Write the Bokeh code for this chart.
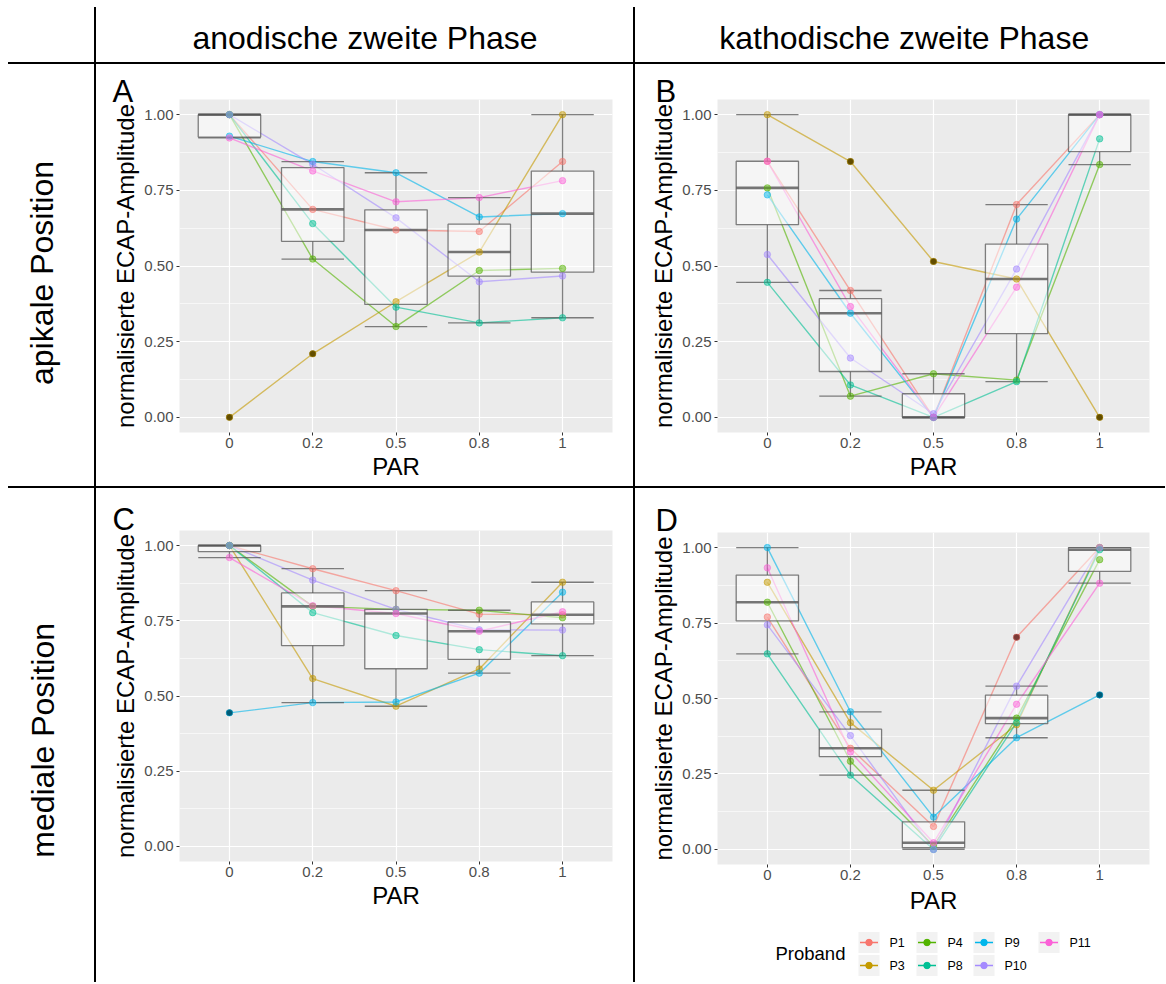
import numpy as np
from bokeh.plotting import figure
from bokeh.models import (FactorRange, Range1d, FixedTicker, PrintfTickFormatter,
                          ColumnDataSource, Spacer, Div)
from bokeh.transform import dodge
from bokeh.layouts import row, column
from bokeh.embed import file_html
from bokeh.resources import INLINE
from bokeh.core.properties import value

# ---------------- data ----------------
PAR = ["0", "0.2", "0.5", "0.8", "1"]
PROBANDS = ["P1", "P3", "P4", "P8", "P9", "P10", "P11"]
COLORS = ["#F8766D", "#C49A00", "#53B400", "#00C094", "#00B6EB", "#A58AFF", "#FB61D7"]
Y_TICKS = [0.0, 0.25, 0.5, 0.75, 1.0]
Y_MINOR = [0.125, 0.375, 0.625, 0.875]

COL_TITLES = ["anodische zweite Phase", "kathodische zweite Phase"]
ROW_TITLES = ["apikale Position", "mediale Position"]
PANEL_LETTERS = ["A", "B", "C", "D"]
X_TITLE = "PAR"
Y_TITLE = "normalisierte ECAP-Amplitude"
LEGEND_TITLE = "Proband"

# A: apikale Position, anodische zweite Phase
A_VALUES = {
    "P1":  [1.000, 0.687, 0.619, 0.614, 0.845],
    "P3":  [0.000, 0.210, 0.382, 0.546, 1.000],
    "P4":  [1.000, 0.523, 0.300, 0.485, 0.492],
    "P8":  [1.000, 0.640, 0.364, 0.312, 0.329],
    "P9":  [0.929, 0.845, 0.808, 0.662, 0.673],
    "P10": [1.000, 0.836, 0.659, 0.448, 0.467],
    "P11": [0.923, 0.814, 0.712, 0.726, 0.782],
}
# B: apikale Position, kathodische zweite Phase
B_VALUES = {
    "P1":  [0.846, 0.419, 0.000, 0.703, 1.000],
    "P3":  [1.000, 0.845, 0.515, 0.457, 0.000],
    "P4":  [0.758, 0.070, 0.144, 0.123, 0.835],
    "P8":  [0.446, 0.107, 0.000, 0.118, 0.920],
    "P9":  [0.735, 0.344, 0.000, 0.655, 1.000],
    "P10": [0.538, 0.196, 0.012, 0.490, 1.000],
    "P11": [0.846, 0.366, 0.000, 0.430, 1.000],
}
# C: mediale Position, anodische zweite Phase
C_VALUES = {
    "P1":  [1.000, 0.923, 0.850, 0.772, 0.770],
    "P3":  [1.000, 0.558, 0.466, 0.590, 0.878],
    "P4":  [1.000, 0.798, 0.788, 0.785, 0.760],
    "P8":  [1.000, 0.777, 0.701, 0.654, 0.634],
    "P9":  [0.444, 0.478, 0.480, 0.576, 0.845],
    "P10": [1.000, 0.885, 0.788, 0.720, 0.719],
    "P11": [0.960, 0.800, 0.774, 0.715, 0.780],
}
# D: mediale Position, kathodische zweite Phase
D_VALUES = {
    "P1":  [0.770, 0.335, 0.076, 0.703, 1.000],
    "P3":  [0.885, 0.420, 0.196, 0.413, 1.000],
    "P4":  [0.819, 0.292, 0.011, 0.435, 0.960],
    "P8":  [0.648, 0.246, 0.000, 0.420, 0.993],
    "P9":  [1.000, 0.456, 0.107, 0.370, 0.512],
    "P10": [0.744, 0.377, 0.000, 0.541, 1.000],
    "P11": [0.933, 0.323, 0.022, 0.481, 0.882],
}

FONT = "Liberation Sans"
BOX_COLOR = "#555555"


def box_stats(vals):
    v = np.sort(np.asarray(vals, dtype=float))
    q1, med, q3 = np.percentile(v, [25, 50, 75])
    iqr = q3 - q1
    lo_f, hi_f = q1 - 1.5 * iqr, q3 + 1.5 * iqr
    inside = v[(v >= lo_f) & (v <= hi_f)]
    out = v[(v < lo_f) | (v > hi_f)]
    return q1, med, q3, inside.min(), inside.max(), list(out)


def make_panel(values, letter, w, h, bl, br, bt, bb, tag_offset, tag_standoff, xlab_standoff=2):
    p = figure(width=w, height=h,
               x_range=FactorRange(factors=PAR, range_padding=0.1, range_padding_units="absolute"),
               y_range=Range1d(-0.05, 1.05),
               output_backend="svg", toolbar_location=None,
               min_border_left=bl, min_border_right=br, min_border_top=bt, min_border_bottom=bb)
    p.background_fill_color = "#EBEBEB"
    p.border_fill_color = "white"
    p.outline_line_color = None

    p.title.text = letter
    p.title.align = "left"
    p.title.offset = tag_offset
    p.title.standoff = tag_standoff
    p.title.text_font = FONT
    p.title.text_font_size = "31px"
    p.title.text_font_style = "normal"
    p.title.text_color = "black"

    p.xgrid.grid_line_color = "white"
    p.xgrid.grid_line_width = 1.2
    p.ygrid.grid_line_color = "white"
    p.ygrid.grid_line_width = 1.2
    p.ygrid.minor_grid_line_color = "white"
    p.ygrid.minor_grid_line_width = 0.6

    p.yaxis.ticker = FixedTicker(ticks=Y_TICKS, minor_ticks=Y_MINOR)
    p.yaxis.formatter = PrintfTickFormatter(format="%.2f")
    for ax in (p.xaxis[0], p.yaxis[0]):
        ax.axis_line_color = None
        ax.major_tick_line_color = "#333333"
        ax.major_tick_out = 3
        ax.major_tick_in = 0
        ax.minor_tick_line_color = None
        ax.major_label_text_font = FONT
        ax.major_label_text_font_size = "15px"
        ax.major_label_text_color = "#4D4D4D"
        ax.major_label_standoff = 2
        ax.axis_label_text_font = FONT
        ax.axis_label_text_font_size = "24px"
        ax.axis_label_text_font_style = "normal"
        ax.axis_label_text_color = "black"
        ax.axis_label_standoff = 2
    p.xaxis.axis_label_standoff = xlab_standoff
    p.xaxis.axis_label = X_TITLE
    p.yaxis.axis_label = Y_TITLE

    stats = [box_stats([values[pid][i] for pid in PROBANDS]) for i in range(len(PAR))]
    bsrc = ColumnDataSource(dict(
        par=PAR,
        q1=[s[0] for s in stats], med=[s[1] for s in stats], q3=[s[2] for s in stats],
        lo=[s[3] for s in stats], hi=[s[4] for s in stats]))
    out_x, out_y = [], []
    for cat, s in zip(PAR, stats):
        for o in s[5]:
            out_x.append(cat)
            out_y.append(o)

    pt_src = {}
    for pid, col in zip(PROBANDS, COLORS):
        src = ColumnDataSource(dict(par=PAR, y=values[pid]))
        pt_src[pid] = src
        p.line("par", "y", source=src, line_color=col, line_width=1.4, line_alpha=0.6)

    p.segment(x0="par", y0="q3", x1="par", y1="hi", source=bsrc,
              line_color=BOX_COLOR, line_alpha=0.75, line_width=1.3)
    p.segment(x0="par", y0="q1", x1="par", y1="lo", source=bsrc,
              line_color=BOX_COLOR, line_alpha=0.75, line_width=1.3)
    for fld in ("lo", "hi"):
        p.segment(x0=dodge("par", -0.375, range=p.x_range), y0=fld,
                  x1=dodge("par", 0.375, range=p.x_range), y1=fld, source=bsrc,
                  line_color=BOX_COLOR, line_alpha=0.75, line_width=1.3)
    p.vbar(x="par", bottom="q1", top="q3", width=0.75, source=bsrc,
           fill_color="white", fill_alpha=0.5, line_color=BOX_COLOR, line_alpha=0.75, line_width=1.3)
    p.segment(x0=dodge("par", -0.375, range=p.x_range), y0="med",
              x1=dodge("par", 0.375, range=p.x_range), y1="med", source=bsrc,
              line_color=BOX_COLOR, line_alpha=0.8, line_width=2.6)
    if out_x:
        p.scatter(out_x, out_y, size=6.5, color="black", line_color=None)

    for pid, col in zip(PROBANDS, COLORS):
        p.scatter("par", "y", source=pt_src[pid], size=6.5,
                  fill_color=col, line_color=col, fill_alpha=0.5, line_alpha=0.5)
    return p


def blank_fig(w, h, bl=0, br=0):
    f = figure(width=w, height=h, min_border=0, min_border_left=bl, min_border_right=br,
               toolbar_location=None, output_backend="svg",
               x_axis_type=None, y_axis_type=None,
               x_range=Range1d(0, w - bl - br), y_range=Range1d(0, h))
    f.background_fill_color = "white"
    f.border_fill_color = "white"
    f.outline_line_color = None
    return f


def sep(w, h):
    return Div(width=w, height=h, margin=0, styles={"background-color": "black"})


def text_cell(w, h, txt, x, y, angle=0.0):
    # x, y are fractions of the (row-aligned) frame
    f = figure(width=w, height=h, min_border=0, toolbar_location=None, output_backend="svg",
               x_axis_type=None, y_axis_type=None, x_range=Range1d(0, 1), y_range=Range1d(0, 1))
    f.background_fill_color = "white"
    f.border_fill_color = "white"
    f.outline_line_color = None
    f.text(x=[x], y=[y], text=[txt], angle=angle, text_font=value(FONT), text_font_size="32px",
           text_align="center", text_baseline="alphabetic", text_color="black")
    return f


def legend_fig(w, h, bl, br):
    """Legend for the subjects: title at left, keys in 2 rows filled column by column."""
    f = blank_fig(w, h, bl, br)
    key_cols = [151.5, 209.5, 266.5, 331.5]   # key centres (px from frame left)
    key_rows = [40, 17]                        # row centres (px from bottom)
    kx, ky = [], []
    for i in range(len(PROBANDS)):
        kx.append(key_cols[i // 2])
        ky.append(key_rows[i % 2])
    src = ColumnDataSource(dict(x=kx, y=ky, x0=[x - 9 for x in kx], x1=[x + 9 for x in kx],
                                lx=[x + 20.5 for x in kx], label=PROBANDS, color=COLORS))
    f.rect("x", "y", width=21, height=21, source=src, fill_color="#F2F2F2", line_color=None)
    f.segment(x0="x0", y0="y", x1="x1", y1="y", source=src, line_color="color", line_width=1.4)
    f.scatter("x", "y", source=src, size=6.5, fill_color="color", line_color="color")
    f.text(x="lx", y="y", text="label", source=src, text_font=value(FONT), text_font_size="12.5px",
           text_baseline="middle", text_align="left", text_color="black")
    f.text(x=[58], y=[29], text=[LEGEND_TITLE], text_font=value(FONT), text_font_size="18.5px",
           text_baseline="middle", text_align="left", text_color="black")
    return f


# layout sizes (px); the page itself has no margin
LM, TM = 8, 7
LW, C1W, C2W, SEP = 86, 537, 530, 2
HH, R1H, R2H = 55, 422, 494
DH = 430  # height of panel D figure, the legend fills the rest of the cell

pA = make_panel(A_VALUES, PANEL_LETTERS[0], C1W, R1H, 83, 21, 35, 54, -67, -18)
pB = make_panel(B_VALUES, PANEL_LETTERS[1], C2W, R1H, 82, 16, 35, 54, -62, -18)
pC = make_panel(C_VALUES, PANEL_LETTERS[2], C1W, R2H, 83, 21, 42, 121, -67, -12)
pD = make_panel(D_VALUES, PANEL_LETTERS[3], C2W, DH, 82, 16, 44, DH - 44 - 332, -62, -11, xlab_standoff=4)
legD = legend_fig(C2W, R2H - DH, 82, 16)

head = row(Spacer(width=LM + LW, height=HH), sep(SEP, HH),
           text_cell(C1W, HH, COL_TITLES[0], 0.5, 0.445), sep(SEP, HH),
           text_cell(C2W, HH, COL_TITLES[1], 0.507, 0.445))

# row labels: their frames are aligned with the panel frames of the same row
r1 = row(Spacer(width=LM, height=R1H),
         text_cell(LW, R1H, ROW_TITLES[0], 0.395, 0.479, np.pi / 2), sep(SEP, R1H), pA, sep(SEP, R1H), pB)
r2 = row(Spacer(width=LM, height=R2H),
         text_cell(LW, R2H, ROW_TITLES[1], 0.40, 0.366, np.pi / 2), sep(SEP, R2H), pC, sep(SEP, R2H),
         column(pD, legD))

FULLW = LW + SEP + C1W + SEP + C2W
hline1 = row(Spacer(width=LM, height=SEP), sep(FULLW, SEP))
hline2 = row(Spacer(width=LM, height=SEP), sep(FULLW, SEP))

page = column(Spacer(width=10, height=TM), head, hline1, r1, hline2, r2)

open("out.html", "w").write(file_html(page, INLINE))
